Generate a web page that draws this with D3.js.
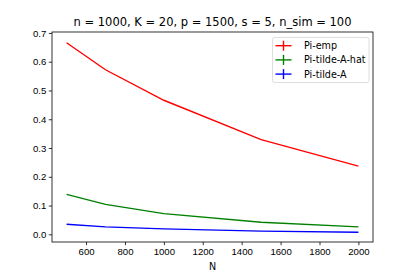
<!DOCTYPE html>
<html>
<head>
<meta charset="utf-8">
<script src="https://cdn.jsdelivr.net/npm/d3@7"></script>
<style>
  body { margin: 0; background: #fff; }
  svg { font-family: "DejaVu Sans", sans-serif; }
</style>
</head>
<body>
<script>
// values
const sizes = [500, 700, 1000, 1500, 2000];
const piEmp = [0.666, 0.572, 0.466, 0.329, 0.237];
const piTildeAHat = [0.139, 0.104, 0.072, 0.042, 0.026];
const piTildeA = [0.035, 0.026, 0.019, 0.011, 0.007];
const xTicks = [600, 800, 1000, 1200, 1400, 1600, 1800, 2000];
const yTicks = [0.0, 0.1, 0.2, 0.3, 0.4, 0.5, 0.6, 0.7];
const seriesNames = ["Pi-emp", "Pi-tilde-A-hat", "Pi-tilde-A"];
const seriesColors = ["#ff0000", "#008000", "#0000ff"];
const titleText = "n = 1000, K = 20, p = 1500, s = 5, n_sim = 100";

const w = 415;
const h = 277;
const padLeft = 52, padRight = 373, padTop = 32, padBottom = 242;
const fs = 9.6;

const svg = d3.select("body")
    .append("svg")
    .attr("width", w)
    .attr("height", h);

const xScale = d3.scaleLinear()
    .domain([425, 2075])
    .range([padLeft, padRight]);

const yScale = d3.scaleLinear()
    .domain([-0.0267, 0.7033])
    .range([padBottom, padTop]);

const xAxis = d3.axisBottom(xScale).tickValues(xTicks).tickSize(3.2).tickPadding(2.5).tickFormat(d3.format("d"));
const yAxis = d3.axisLeft(yScale).tickValues(yTicks).tickSize(3.2).tickPadding(2.5).tickFormat(d3.format(".1f"));

const gx = svg.append("g")
    .attr("transform", "translate(0," + padBottom + ")")
    .call(xAxis);

const gy = svg.append("g")
    .attr("transform", "translate(" + padLeft + ",0)")
    .call(yAxis);

[gx, gy].forEach(g => {
    g.select(".domain").remove();
    g.selectAll("text").attr("font-size", fs).attr("fill", "#000");
    g.selectAll("line").attr("stroke", "#000").attr("stroke-width", 0.8);
});

// lines
const series = [piEmp, piTildeAHat, piTildeA];
const line = d3.line()
    .x((d, i) => xScale(sizes[i]))
    .y(d => yScale(d));

series.forEach((vals, k) => {
    svg.append("path")
        .datum(vals)
        .attr("fill", "none")
        .attr("stroke", seriesColors[k])
        .attr("stroke-width", 1.4)
        .attr("d", line);
});

// frame
svg.append("rect")
    .attr("x", padLeft)
    .attr("y", padTop)
    .attr("width", padRight - padLeft)
    .attr("height", padBottom - padTop)
    .attr("fill", "none")
    .attr("stroke", "#000")
    .attr("stroke-width", 0.8);

// title and axis label
svg.append("text")
    .attr("x", (padLeft + padRight) / 2)
    .attr("y", 25.5)
    .attr("text-anchor", "middle")
    .attr("font-size", 11.5)
    .text(titleText);

svg.append("text")
    .attr("x", (padLeft + padRight) / 2)
    .attr("y", 269.5)
    .attr("text-anchor", "middle")
    .attr("font-size", fs)
    .text("N");

// legend
const legend = svg.append("g");
legend.append("rect")
    .attr("x", 272.5)
    .attr("y", 37.5)
    .attr("width", 96.5)
    .attr("height", 45)
    .attr("rx", 2)
    .attr("fill", "#fff")
    .attr("fill-opacity", 0.8)
    .attr("stroke", "#d6d6d6")
    .attr("stroke-width", 0.8);

seriesNames.forEach((name, k) => {
    const yy = 45.7 + k * 14.2;
    legend.append("line")
        .attr("x1", 275.5).attr("x2", 291.5)
        .attr("y1", yy).attr("y2", yy)
        .attr("stroke", seriesColors[k])
        .attr("stroke-width", 1.4);
    legend.append("line")
        .attr("x1", 283.5).attr("x2", 283.5)
        .attr("y1", yy - 5).attr("y2", yy + 5)
        .attr("stroke", seriesColors[k])
        .attr("stroke-width", 1.4);
    legend.append("text")
        .attr("x", 304)
        .attr("y", yy + 3.4)
        .attr("font-size", fs)
        .text(name);
});
</script>
</body>
</html>
